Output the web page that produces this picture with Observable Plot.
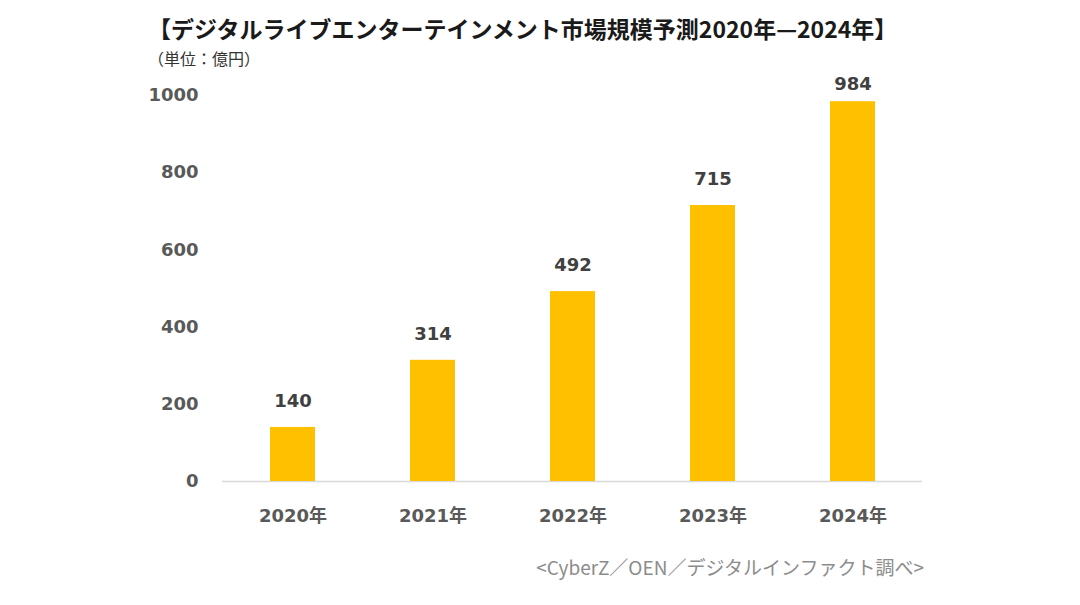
<!DOCTYPE html>
<html><head><meta charset="utf-8">
<script src="https://cdn.jsdelivr.net/npm/d3@7"></script>
<script src="https://cdn.jsdelivr.net/npm/@observablehq/plot@0.6"></script>
<style>
body{margin:0;background:#fff;width:1080px;height:605px;overflow:hidden;position:relative;font-family:"Noto Sans CJK JP","Noto Sans",sans-serif;}
#title{position:absolute;left:148px;top:14px;font-size:23px;line-height:28px;font-weight:bold;color:#1a1a1a;white-space:nowrap;}
#sub{position:absolute;left:148px;top:48px;font-size:16px;line-height:20px;color:#333;white-space:nowrap;}
#chart{position:absolute;left:0;top:40px;}
#cap{position:absolute;right:156px;top:553px;font-size:19px;line-height:28px;color:#8c8c8c;white-space:nowrap;}
</style></head>
<body>
<div id="title"></div>
<div id="sub"></div>
<div id="chart"></div>
<div id="cap"></div>
<script>
const titleText = "【デジタルライブエンターテインメント市場規模予測2020年—2024年】";
const subtitleText = "（単位：億円）";
const captionText = "<CyberZ／OEN／デジタルインファクト調べ>";
const years = ["2020年","2021年","2022年","2023年","2024年"];
const values = [140, 314, 492, 715, 984];
const yTicks = [0, 200, 400, 600, 800, 1000];

document.getElementById("title").textContent = titleText;
document.getElementById("sub").textContent = subtitleText;
document.getElementById("cap").textContent = captionText;

const data = years.map((y, i) => ({year: y, value: values[i]}));
const numFont = "'DejaVu Sans','Noto Sans CJK JP',sans-serif";
const labelStyle = {x: "year", y: "value", text: d => String(d.value), fill: "#404040", fontSize: 18, fontWeight: "bold"};

const chart = Plot.plot({
  width: 1080,
  height: 500,
  marginTop: 55,
  marginBottom: 59,
  marginLeft: 222,
  marginRight: 158,
  style: {fontFamily: numFont, fontSize: "18px", fontWeight: "bold", color: "#595959", background: "transparent", overflow: "visible"},
  x: {domain: years, paddingInner: 0.68, paddingOuter: 0.34, label: null, tickSize: 0, tickPadding: 28},
  y: {domain: [0, 1000], ticks: yTicks, tickFormat: d => String(d), label: null, tickSize: 0, tickPadding: 24},
  marks: [
    Plot.ruleY([0], {stroke: "#d9d9d9", strokeWidth: 1.5}),
    Plot.barY(data, {x: "year", y: "value", fill: "#FFC000"}),
    Plot.text(data.slice(0, 4), {...labelStyle, dy: -26}),
    Plot.text(data.slice(4), {...labelStyle, dy: -17})
  ]
});
document.getElementById("chart").appendChild(chart);
</script>
</body></html>
